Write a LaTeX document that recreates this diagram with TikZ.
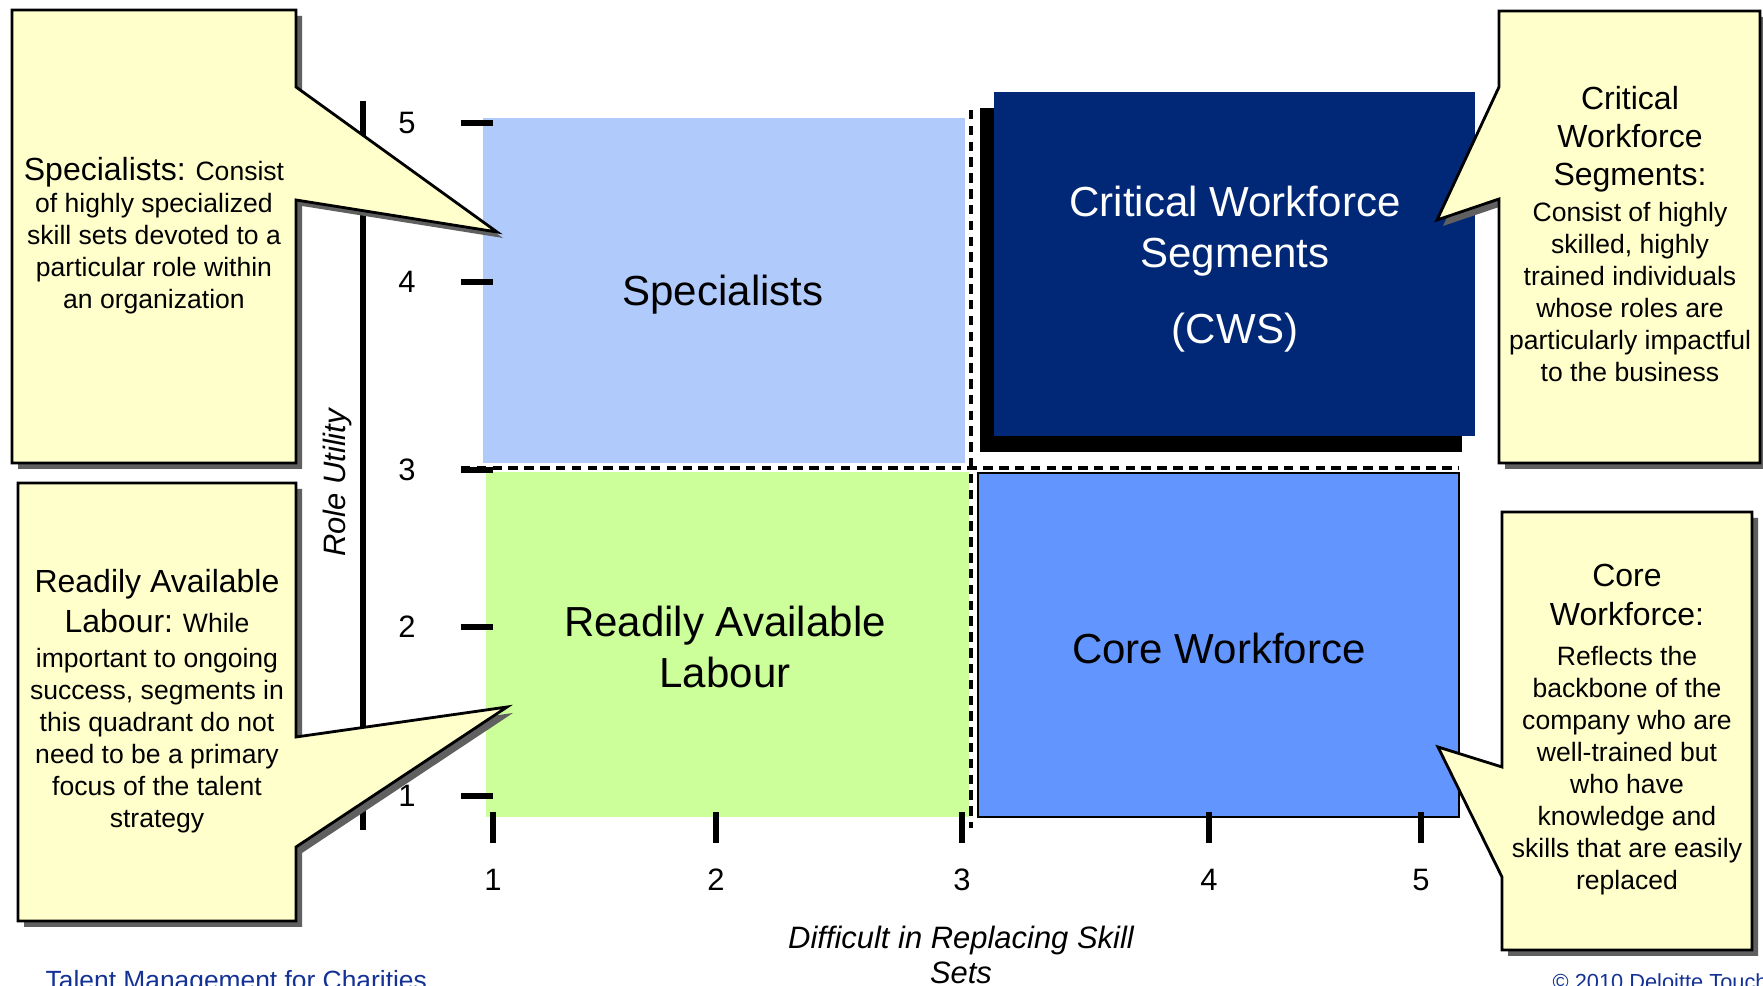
\documentclass[tikz,border=0pt]{standalone}
\usepackage{fontspec}
\setmainfont{Liberation Sans}
\usepackage{tikz}
\usetikzlibrary{calc, positioning}

\definecolor{cSpecBlue}{RGB}{176,202,252}
\definecolor{cLabourGreen}{RGB}{204,255,153}
\definecolor{cCoreBlue}{RGB}{98,150,254}
\definecolor{cCwsNavy}{RGB}{0,40,118}
\definecolor{cNoteYellow}{RGB}{255,255,204}
\definecolor{cShadowGray}{RGB}{96,96,96}
\definecolor{cFootBlue}{RGB}{20,50,150}

\begin{document}
\begin{tikzpicture}[x=0.01cm, y=-0.01cm,
    quadText/.style={align=center, font=\fontsize{11.95}{14.6}\selectfont},
    noteText/.style={align=center, font=\fontsize{7.55}{9.1}\selectfont},
    axisText/.style={font=\fontsize{8.8}{10.2}\selectfont},
    axisTitle/.style={align=center, font=\fontsize{8.8}{10.2}\selectfont\itshape},
    footText/.style={anchor=base west, inner sep=0pt, text=cFootBlue},
    noteShadow/.style={fill=cShadowGray, shift={(6,6)}},
    noteBox/.style={fill=cNoteYellow, draw=black, line width=0.8pt},
    gridLine/.style={dash pattern=on 2.7pt off 1.8pt, line width=1.1pt},
    tickLine/.style={line width=1.8pt}]
    \newcommand{\noteHead}{\fontsize{9.1}{9.1}\selectfont};
    \newcommand{\drawNote}[1]{\fill[noteShadow] #1; \draw[noteBox] #1;};
    \useasboundingbox (0,0) rectangle (1763,986);

    % the four quadrants
    \fill[cSpecBlue] (483,118) rectangle (965,463);
    \fill[cLabourGreen] (486,472) rectangle (969,817);
    \filldraw[fill=cCoreBlue, draw=black, line width=0.6pt] (978,473) rectangle (1459,817);
    \fill[black] (980,108) rectangle (1462,452);
    \fill[cCwsNavy] (994,92) rectangle (1475,436);

    % dashed split at 3/3
    \coordinate (cMidTopPt) at (971,110);
    \coordinate (cMidBotPt) at (971,828);
    \coordinate (cMidLeftPt) at (461,468);
    \coordinate (cMidRightPt) at (1459,468);
    \draw[gridLine] (cMidTopPt) -- (cMidBotPt);
    \draw[gridLine] (cMidLeftPt) -- (cMidRightPt);

    % axes
    \coordinate (cYTopPt) at (363,101);
    \coordinate (cYBotPt) at (363,830);
    \draw[line width=1.6pt] (cYTopPt) -- (cYBotPt);
    \foreach \y/\t in {123/5, 282/4, 470/3, 627/2, 796/1}
    {
        \draw[tickLine] (461,\y) -- (493,\y);
        \node[axisText] (yLbl\t) at (407,\y) {\t};
    };
    \foreach \x/\t in {493/1, 716/2, 962/3, 1209/4, 1421/5}
    {
        \draw[tickLine] (\x,812) -- (\x,843);
        \node[axisText] (xLbl\t) at (\x,880) {\t};
    };
    \node[axisTitle, rotate=90] (nRole) at (337,483) {Role Utility};
    \node[axisTitle] (nSkill) at (961,955) {Difficult in Replacing Skill\\Sets};

    % quadrant names
    \node[quadText] (nSpec) at (723,295) {Specialists};
    \node[quadText] (nLabour) at (725,647) {Readily Available\\Labour};
    \node[quadText] (nCore) at (1219,648) {Core Workforce};
    \node[quadText, text=white] (nCws) at (1235,269) {Critical Workforce\\Segments\\[7.1pt](CWS)};

    % callout notes
    \drawNote{(12,10) -- (296,10) -- (296,87) -- (497,232) -- (296,200) -- (296,463) -- (12,463) -- cycle}
    \drawNote{(18,483) -- (296,483) -- (296,737) -- (507,707) -- (296,847) -- (296,921) -- (18,921) -- cycle}
    \drawNote{(1499,11) -- (1760,11) -- (1760,463) -- (1499,463) -- (1499,199) -- (1437,220) -- (1499,87) -- cycle}
    \drawNote{(1502,512) -- (1752,512) -- (1752,950) -- (1502,950) -- (1502,877) -- (1438,747) -- (1502,767) -- cycle}
    \node[noteText] (tSpec) at (154,236)
        {{\noteHead Specialists:} Consist\\of highly specialized\\skill sets devoted to a\\particular role within\\an organization};
    \node[noteText] (tLabour) at (157,701)
        {{\noteHead Readily Available}\\[2.3pt]{\noteHead Labour:} While\\[0.9pt]important to ongoing\\success, segments in\\this quadrant do not\\need to be a primary\\focus of the talent\\strategy};
    \node[noteText] (tCws) at (1630,234)
        {{\noteHead Critical}\\[1.7pt]{\noteHead Workforce}\\[1.7pt]{\noteHead Segments:}\\[1.1pt]Consist of highly\\skilled, highly\\trained individuals\\whose roles are\\particularly impactful\\to the business};
    \node[noteText] (tCore) at (1627,730)
        {{\noteHead Core}\\[2pt]{\noteHead Workforce:}\\[2.3pt]Reflects the\\backbone of the\\company who are\\well-trained but\\who have\\knowledge and\\skills that are easily\\replaced};

    % footer
    \node[footText, font=\fontsize{7.5}{9}\selectfont] (nFootL) at (45,990) {Talent Management for Charities};
    \node[footText, font=\fontsize{6.2}{8}\selectfont] (nFootR) at (1552,990) {© 2010 Deloitte Touch};
\end{tikzpicture}
\end{document}
